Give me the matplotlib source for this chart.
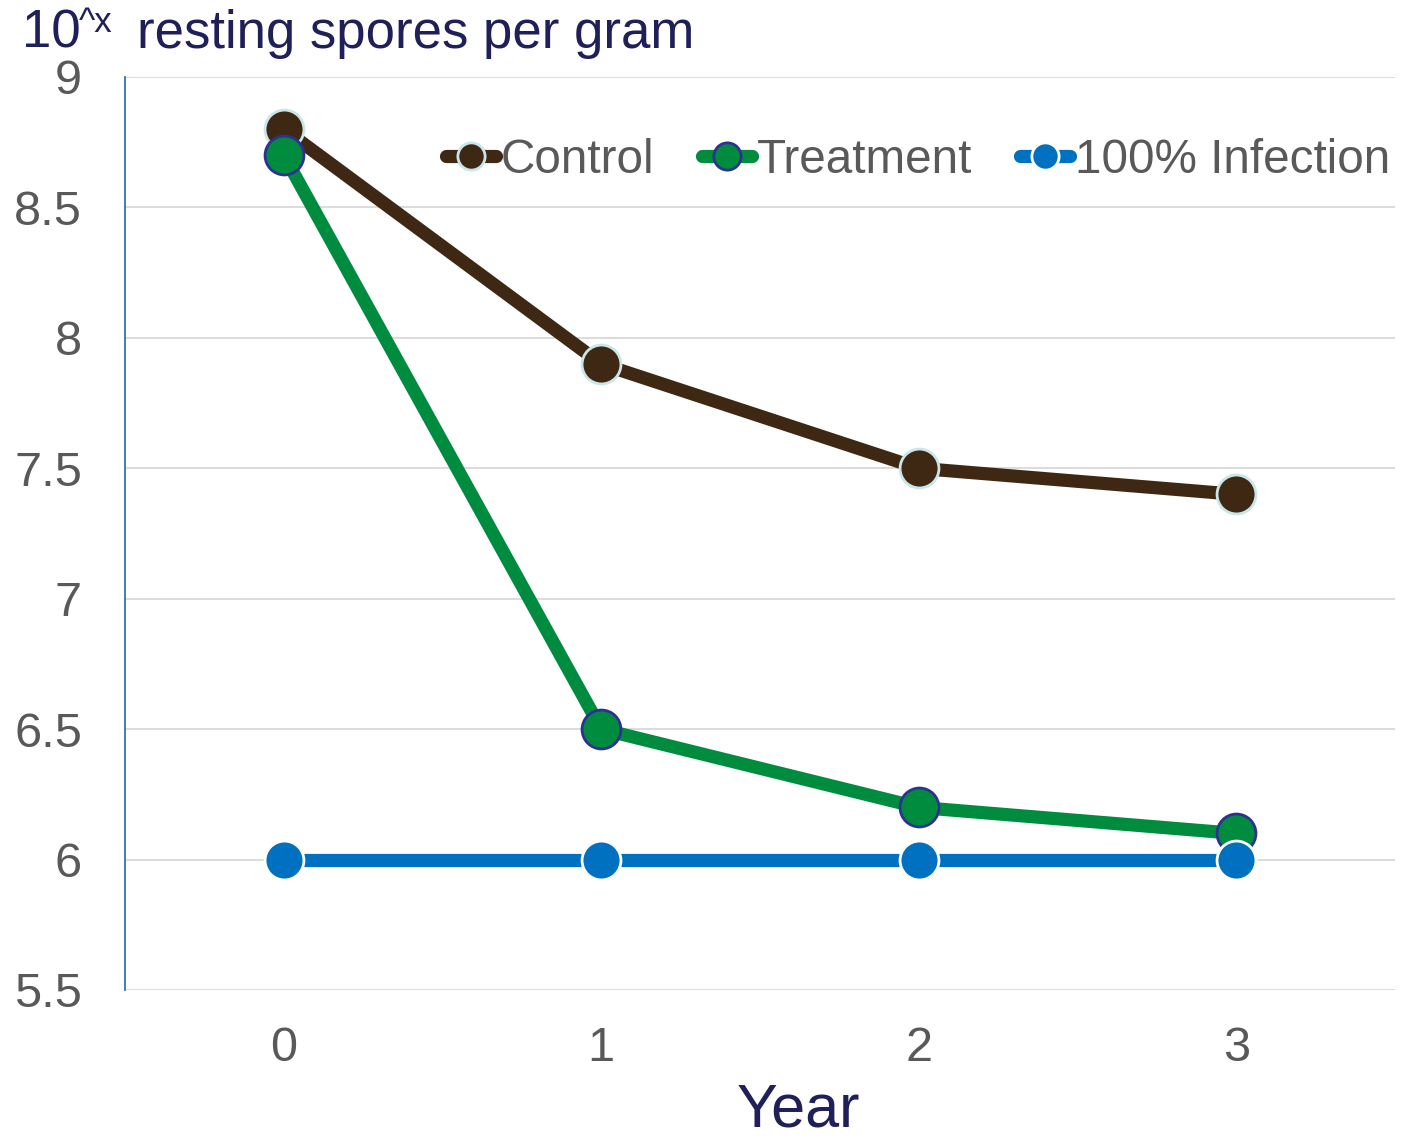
# Resting spore counts over time, control vs treatment vs 100% infection baseline

import matplotlib.pyplot as plt

plt.rcParams['font.family'] = ['Liberation Sans', 'DejaVu Sans']

years = [0, 1, 2, 3]
control = [8.8, 7.9, 7.5, 7.4]
treatment = [8.7, 6.5, 6.2, 6.1]
infection = [6.0, 6.0, 6.0, 6.0]
y_ticks = [5.5, 6, 6.5, 7, 7.5, 8, 8.5, 9]
y_labels = ['5.5', '6', '6.5', '7', '7.5', '8', '8.5', '9']

fig = plt.figure(figsize=(14.16, 11.42), dpi=100)
ax = fig.add_axes([0.0883, 0.1331, 0.8969, 0.7995])

style = dict(lw=9.5, marker='o', ms=28, mew=2, solid_capstyle='round')
ax.plot(years, control, color='#3f2813', mfc='#3f2813', mec='#c9e7ea', label='Control', **style)
ax.plot(years, treatment, color='#008c3f', mfc='#008c3f', mec='#2e3192', label='Treatment', **style)
ax.plot(years, infection, color='#0070c0', mfc='#0070c0', mec='white', label='100% Infection', **style)

ax.set_xlim(-0.5, 3.5)
ax.set_ylim(5.5, 9)
ax.set_xticks(years)
ax.set_yticks(y_ticks)
ax.set_yticklabels(y_labels)
ax.tick_params(length=0, labelsize=35, labelcolor='#595959')
ax.tick_params(axis='x', pad=26)
ax.tick_params(axis='y', pad=31)
ax.grid(axis='y', color='#d9d9d9', lw=1.3)
ax.set_axisbelow(True)
for s in ['top', 'right', 'bottom']:
    ax.spines[s].set_visible(False)
ax.spines['left'].set_color('#2e75b6')
ax.spines['left'].set_linewidth(1.3)

ax.set_xlabel('Year', fontsize=44, color='#1f1f5a', va='baseline')
ax.xaxis.set_label_coords(0.530, -0.150)

# axis title: 10^x resting spores per gram
fig.text(0.0155, 0.9580, '10', fontsize=38, color='#1f1f5a', va='baseline')
fig.text(0.0560, 0.9720, '^x', fontsize=25, color='#1f1f5a', va='baseline')
fig.text(0.0968, 0.9580, 'resting spores per gram', fontsize=38, color='#1f1f5a', va='baseline')

leg = ax.legend(loc='center right', bbox_to_anchor=(1.011, 0.909), ncol=3, frameon=False,
                fontsize=34.3, handlelength=1.05, handletextpad=0.1, columnspacing=1.0,
                markerscale=0.7, borderaxespad=0)
for txt in leg.get_texts():
    txt.set_color('#595959')

fig.savefig('out.png', dpi=100)
